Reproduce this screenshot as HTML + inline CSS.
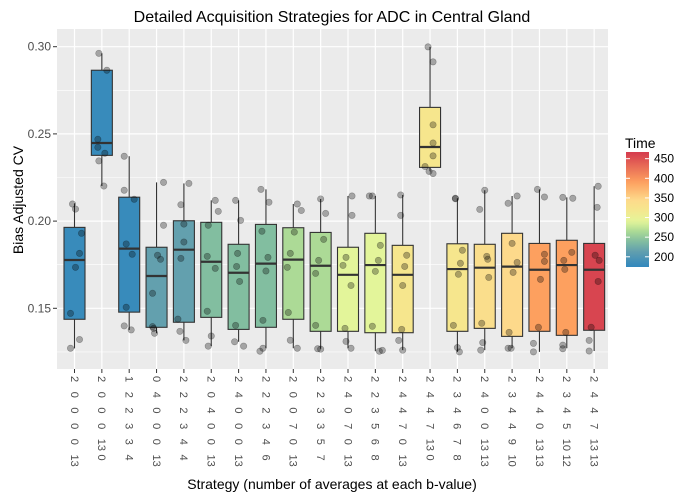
<!DOCTYPE html>
<html><head><meta charset="utf-8"><style>
html,body{margin:0;padding:0;background:#fff}
svg{display:block;font-family:"Liberation Sans",Arial,sans-serif}
</style></head><body>
<svg id="chart" width="700" height="500" viewBox="0 0 700 500"></svg>
<script>
const categories=["2 0 0 0 0 13","2 0 0 0 13 0","1 2 2 3 3 4","0 4 0 0 0 13","2 2 2 3 4 4","2 0 4 0 0 13","2 4 0 0 0 13","2 2 2 3 4 6","2 0 0 7 0 13","2 2 3 3 5 7","2 4 0 7 0 13","2 2 3 5 6 8","2 4 4 7 0 13","2 4 4 7 13 0","2 3 4 6 7 8","2 4 0 0 13 13","2 3 4 4 9 10","2 4 4 0 13 13","2 3 4 5 10 12","2 4 4 7 13 13"];
const times=[180,180,180,215,215,240,240,240,265,265,290,290,320,320,320,335,345,390,390,460];
const whiskerLow=[.127,.2201,.1376,.1357,.1316,.1283,.1308,.1271,.1271,.1268,.1271,.1254,.126,.2285,.125,.126,.1271,.125,.1271,.1255];
const q1=[.1437,.2377,.1478,.1391,.142,.1448,.1379,.1391,.1437,.1368,.1368,.136,.136,.2308,.1368,.1385,.1339,.1368,.1345,.1374];
const medians=[.1777,.2448,.1842,.1685,.1836,.1767,.1704,.1756,.1779,.1744,.1692,.1748,.1692,.2425,.1725,.1733,.1739,.1721,.1748,.1721];
const q3=[.1964,.2865,.2137,.185,.2002,.1993,.1867,.1981,.1962,.1935,.185,.193,.1861,.2652,.187,.1867,.193,.1872,.189,.1872];
const whiskerHigh=[.2102,.2962,.2372,.2222,.2216,.2119,.2119,.2182,.2098,.2127,.2144,.2144,.215,.2999,.2131,.2177,.2144,.2182,.2136,.22];
const points=[
[.2098,.2069,.193,.1815,.1735,.1471,.1321,.1271],
[.2962,.2865,.2469,.2423,.2389,.2345,.2201],
[.2372,.2177,.2125,.1869,.181,.1506,.1399,.1376],
[.2222,.1976,.1804,.1781,.1586,.1395,.1357,.1385],
[.2216,.2094,.1983,.188,.1786,.1438,.1368,.1316],
[.2119,.2056,.1976,.1798,.1729,.1483,.1341,.1283],
[.2119,.2004,.1815,.174,.1654,.1402,.1308,.1283],
[.2182,.2108,.1942,.1792,.1714,.1431,.1271,.1254],
[.2098,.2061,.1937,.1815,.1735,.1476,.1317,.1271],
[.2127,.2044,.1895,.1775,.17,.1402,.1268,.1266],
[.2144,.2033,.1792,.1746,.1631,.1385,.131,.1271],
[.2144,.2144,.1861,.1775,.1712,.1397,.1259,.1254],
[.215,.2033,.1804,.174,.1631,.1379,.1316,.126],
[.2999,.2913,.2552,.2448,.2374,.2313,.2285,.2273],
[.2131,.2128,.1833,.1758,.1695,.1402,.1275,.125],
[.2177,.2067,.1798,.1781,.1677,.1414,.1303,.126],
[.2144,.2102,.1872,.1763,.1706,.1362,.1271,.1271],
[.2182,.2138,.181,.1769,.1666,.1391,.1299,.125],
[.2136,.2131,.1821,.1775,.1723,.1362,.1289,.1268],
[.22,.2079,.1804,.1775,.1654,.1391,.1316,.1255]];
const jitter=[[-2,1,7,5,1,-4,5,-4],[-3,5,-4,-4,3,-3,2],[-5,-5,5,-3,3,-3,-5,2],[7,7,1,4,-4,-4,-2,-3],[5,-3,0,0,-3,-6,-4,2],[4,7,-3,-4,4,-4,0,-3],[-3,2,-1,-2,1,-3,-4,5],[-5,3,-4,2,0,-3,-3,-6],[4,8,1,-3,-6,-5,-3,4],[0,5,3,-2,-5,-5,-3,0],[4,4,-2,-5,3,-3,-2,3],[-3,-6,5,3,0,-3,7,4],[-2,-2,4,2,0,-1,-4,0],[-2,3,3,3,3,-5,-1,3],[-2,-2,5,3,1,-4,0,2],[0,-5,2,3,4,-3,-2,-4],[5,-4,0,5,1,-3,-4,-1],[-2,5,5,5,1,-1,-6,-6],[-4,6,5,-3,-2,-1,-4,-4],[4,3,1,5,4,-3,-5,-5]];
const yTicks=[0.15,0.20,0.25,0.30];
const yTickLabels=["0.15","0.20","0.25","0.30"];
const legendTicks=[200,250,300,350,400,450];

const svg=document.getElementById('chart');
const NS='http://www.w3.org/2000/svg';
function mk(tag,attrs,parent){const e=document.createElementNS(NS,tag);for(const k in attrs)e.setAttribute(k,attrs[k]);(parent||svg).appendChild(e);return e;}
const PL=57,PR=608,PT=29,PB=369;
const yScale=v=>46.7+(0.30-v)*1744;
const xScale=i=>74.5+i*27.35;
const stops=[[175,[50,136,189]],[215,[99,160,174]],[240,[130,190,160]],[265,[172,218,150]],[290,[227,245,154]],[320,[246,230,141]],[345,[253,217,139]],[390,[253,160,95]],[465,[213,62,79]]];
function color(t){if(t<=stops[0][0])return 'rgb('+stops[0][1]+')';for(let i=1;i<stops.length;i++){if(t<=stops[i][0]){const a=stops[i-1],b=stops[i],f=(t-a[0])/(b[0]-a[0]);return 'rgb('+a[1].map((c,j)=>Math.round(c+(b[1][j]-c)*f)).join(',')+')';}}return 'rgb('+stops[stops.length-1][1]+')';}

const panel=mk('rect',{x:PL,y:PT,width:PR-PL,height:PB-PT,fill:'#ebebeb'});


for(let v=0.125;v<=0.33;v+=0.05){const y=yScale(v);if(y>PT&&y<PB)mk('line',{x1:PL,x2:PR,y1:y,y2:y,stroke:'#fff','stroke-width':0.6});}
yTicks.forEach((v,i)=>{const y=yScale(v);
const g=mk('line',{x1:PL,x2:PR,y1:y,y2:y,stroke:'#fff','stroke-width':1.2});


mk('line',{x1:PL-4,x2:PL,y1:y,y2:y,stroke:'#333','stroke-width':1});
const t=mk('text',{x:PL-6,y:y+4,'text-anchor':'end','font-size':12,fill:'#4d4d4d'});t.textContent=yTickLabels[i];

});
categories.forEach((c,i)=>{const x=xScale(i);
mk('line',{x1:x,x2:x,y1:PT,y2:PB,stroke:'#fff','stroke-width':1.2});
mk('line',{x1:x,x2:x,y1:PB,y2:PB+4,stroke:'#333','stroke-width':1});
const g=mk('g',{});


c.split(' ').forEach((tok,k)=>{const yy=376+k*15.7;const t=mk('text',{x:0,y:0,transform:`translate(${x-3.7},${yy}) rotate(90)`,'font-size':11,fill:'#4d4d4d'},g);t.textContent=tok;});
});
categories.forEach((c,i)=>{const x=xScale(i),w=21;
const g=mk('g',{});


mk('line',{x1:x,x2:x,y1:yScale(whiskerHigh[i]),y2:yScale(q3[i]),stroke:'#333','stroke-width':1.1},g);
mk('line',{x1:x,x2:x,y1:yScale(q1[i]),y2:yScale(whiskerLow[i]),stroke:'#333','stroke-width':1.1},g);
mk('rect',{x:x-w/2,y:yScale(q3[i]),width:w,height:yScale(q1[i])-yScale(q3[i]),fill:color(times[i]),stroke:'#333','stroke-width':1.1},g);
mk('line',{x1:x-w/2,x2:x+w/2,y1:yScale(medians[i]),y2:yScale(medians[i]),stroke:'#333','stroke-width':2.2},g);
});
points.forEach((arr,i)=>arr.forEach((v,k)=>{const p=mk('circle',{cx:xScale(i)+(jitter[i][k]||0),cy:yScale(v),r:3.2,fill:'rgba(0,0,0,0.3)',stroke:'rgba(0,0,0,0.3)','stroke-width':0.6});

}));

const title=mk('text',{x:332,y:22,'text-anchor':'middle','font-size':16,fill:'#000'});title.textContent='Detailed Acquisition Strategies for ADC in Central Gland';


const yt=mk('text',{x:0,y:0,transform:'translate(23,200) rotate(-90)','text-anchor':'middle','font-size':14,fill:'#000'});yt.textContent='Bias Adjusted CV';


const xt=mk('text',{x:332,y:489,'text-anchor':'middle','font-size':14,fill:'#000'});xt.textContent='Strategy (number of averages at each b-value)';



// legend
const lg=mk('g',{});


const lt=mk('text',{x:625,y:148,'font-size':14,fill:'#000'},lg);lt.textContent='Time';
const defs=mk('defs',{});const grad=mk('linearGradient',{id:'lgrad',x1:0,y1:1,x2:0,y2:0},defs);
const lmin=174,lmax=467;
for(let t=lmin;t<=lmax;t+=10){mk('stop',{offset:(t-lmin)/(lmax-lmin),'stop-color':color(t)},grad);}
const bar=mk('rect',{x:626,y:152,width:23,height:115,fill:'url(#lgrad)'},lg);


const ly=t=>267-(t-lmin)/(lmax-lmin)*115;
legendTicks.forEach(t=>{const y=ly(t);
mk('line',{x1:626,x2:630,y1:y,y2:y,stroke:'#fff','stroke-width':1},lg);
mk('line',{x1:645,x2:649,y1:y,y2:y,stroke:'#fff','stroke-width':1},lg);
const tx=mk('text',{x:654,y:y+4,'font-size':12,fill:'#000'},lg);tx.textContent=t;});
</script>
</body></html>
